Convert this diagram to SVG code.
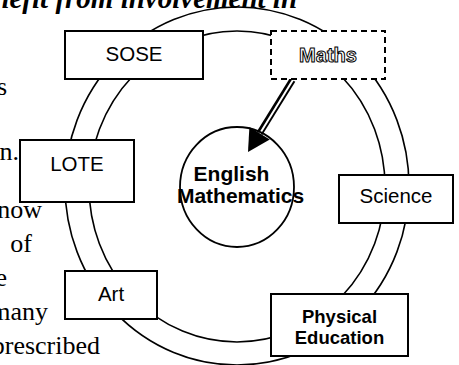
<svg xmlns="http://www.w3.org/2000/svg" width="459" height="365" viewBox="0 0 459 365">
<style>
.page{font-family:"Liberation Serif","Times New Roman",serif;font-size:26px;fill:#000}
.title{font-family:"Liberation Serif","Times New Roman",serif;font-size:29px;font-weight:bold;font-style:italic;fill:#000}
.ring{fill:none;stroke:#000;stroke-width:1.6}
.box{fill:#fff;stroke:#000;stroke-width:2}
.lbl{font-family:"Liberation Sans",Arial,sans-serif;font-size:20.5px;fill:#000;text-anchor:middle}
.blbl{font-family:"Liberation Sans",Arial,sans-serif;font-weight:bold;fill:#000;text-anchor:middle}
</style>
<rect width="459" height="365" fill="#fff"/>
<text class="title" x="-34" y="8">benefit from involvement in</text>
<g id="page-text" class="page" text-anchor="end">
<text x="7" y="95">s</text>
<text x="19" y="160">n.</text>
<text x="42" y="218">know</text>
<text x="32" y="252">of</text>
<text x="7" y="286">e</text>
<text x="48" y="320">many</text>
<text x="100" y="354">prescribed</text>
</g>
<g id="connectors">
<ellipse class="ring" cx="237" cy="186" rx="172" ry="179"/>
<ellipse class="ring" cx="237" cy="186.5" rx="148" ry="155.5"/>
<path d="M292.5 80 L259.6 133.3" stroke="#000" stroke-width="6.5" fill="none"/>
<path d="M293.5 79 L259 135" stroke="#fff" stroke-width="2" fill="none"/>
<polygon points="248,152 249.4,127 269.8,139.6" fill="#000"/>
</g>
<g id="core">
<ellipse cx="237" cy="187" rx="57" ry="60" fill="none" stroke="#000" stroke-width="1.8"/>
<text class="blbl" x="231.5" y="181" font-size="21">English</text>
<text class="blbl" x="240.5" y="203" font-size="21">Mathematics</text>
</g>
<g id="sose">
<rect class="box" x="65" y="31" width="138" height="48"/>
<text class="lbl" x="134" y="61">SOSE</text>
</g>
<g id="maths">
<rect x="271" y="31" width="114" height="48" fill="#fff" stroke="#000" stroke-width="2" stroke-dasharray="6,4"/>
<text class="blbl" x="328" y="62" font-size="20" fill="#fff" stroke="#000" stroke-width="1" style="fill:#fff">Maths</text>
</g>
<g id="lote">
<rect class="box" x="20" y="140" width="114" height="62"/>
<text class="lbl" x="77" y="171">LOTE</text>
</g>
<g id="art">
<rect class="box" x="65" y="271" width="92" height="48"/>
<text class="lbl" x="111" y="301">Art</text>
</g>
<g id="science">
<rect class="box" x="339" y="175" width="114" height="48"/>
<text class="lbl" x="396" y="203" font-size="18.5">Science</text>
</g>
<g id="pe">
<rect class="box" x="271" y="294" width="137" height="62"/>
<text class="blbl" x="339.5" y="323" font-size="18.5">Physical</text>
<text class="blbl" x="339.5" y="344" font-size="18.5">Education</text>
</g>
</svg>
